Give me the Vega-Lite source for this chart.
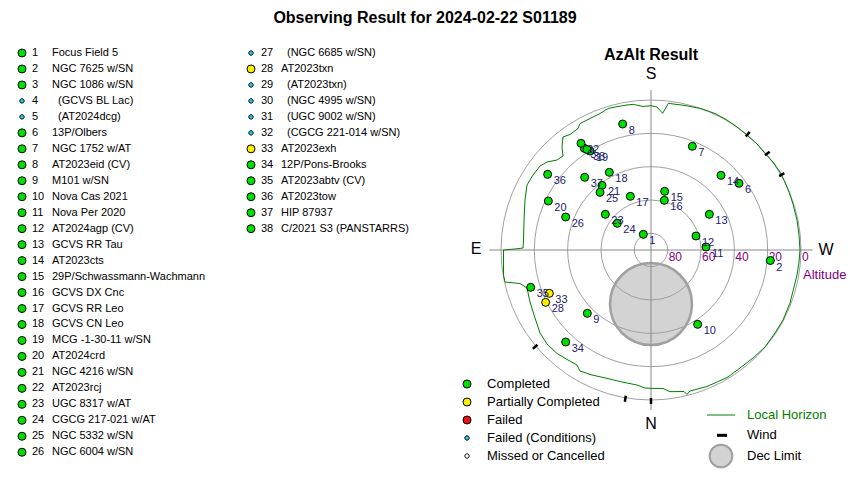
{
  "$schema": "https://vega.github.io/schema/vega-lite/v6.json",
  "width": 850,
  "height": 480,
  "padding": 0,
  "autosize": {"type": "none"},
  "title": {"text": "Observing Result for 2024-02-22 S01189", "fontSize": 16, "fontWeight": "bold", "font": "Liberation Sans", "anchor": "middle", "offset": -26, "color": "black"},
  "config": {"view": {"stroke": null}, "font": "Liberation Sans", "axis": {"disable": true}},
  "datasets": {
    "targets": [
      {"num": 1, "name": "Focus Field 5", "status": "Completed", "col": 0, "row": 1, "skyx": -4.6, "skyy": 9.4},
      {"num": 2, "name": "NGC 7625 w/SN", "status": "Completed", "col": 0, "row": 2, "skyx": 71.6, "skyy": -6.3},
      {"num": 3, "name": "NGC 1086 w/SN", "status": "Completed", "col": 0, "row": 3, "skyx": -40.0, "skyy": 61.0},
      {"num": 4, "name": "(GCVS BL Lac)", "status": "Failed (Conditions)", "col": 0, "row": 4},
      {"num": 5, "name": "(AT2024dcg)", "status": "Failed (Conditions)", "col": 0, "row": 5},
      {"num": 6, "name": "13P/Olbers", "status": "Completed", "col": 0, "row": 6, "skyx": 52.8, "skyy": 40.0},
      {"num": 7, "name": "NGC 1752 w/AT", "status": "Completed", "col": 0, "row": 7, "skyx": 24.8, "skyy": 62.2},
      {"num": 8, "name": "AT2023eid (CV)", "status": "Completed", "col": 0, "row": 8, "skyx": -17.0, "skyy": 75.6},
      {"num": 9, "name": "M101 w/SN", "status": "Completed", "col": 0, "row": 9, "skyx": -38.2, "skyy": -38.0},
      {"num": 10, "name": "Nova Cas 2021", "status": "Completed", "col": 0, "row": 10, "skyx": 28.0, "skyy": -44.6},
      {"num": 11, "name": "Nova Per 2020", "status": "Completed", "col": 0, "row": 11, "skyx": 33.0, "skyy": 1.8},
      {"num": 12, "name": "AT2024agp (CV)", "status": "Completed", "col": 0, "row": 12, "skyx": 27.0, "skyy": 8.4},
      {"num": 13, "name": "GCVS RR Tau", "status": "Completed", "col": 0, "row": 13, "skyx": 35.0, "skyy": 21.4},
      {"num": 14, "name": "AT2023cts", "status": "Completed", "col": 0, "row": 14, "skyx": 42.0, "skyy": 44.8},
      {"num": 15, "name": "29P/Schwassmann-Wachmann", "status": "Completed", "col": 0, "row": 15, "skyx": 8.2, "skyy": 35.2},
      {"num": 16, "name": "GCVS DX Cnc", "status": "Completed", "col": 0, "row": 16, "skyx": 8.0, "skyy": 29.8},
      {"num": 17, "name": "GCVS RR Leo", "status": "Completed", "col": 0, "row": 17, "skyx": -12.4, "skyy": 32.2},
      {"num": 18, "name": "GCVS CN Leo", "status": "Completed", "col": 0, "row": 18, "skyx": -25.0, "skyy": 46.6},
      {"num": 19, "name": "MCG -1-30-11 w/SN", "status": "Completed", "col": 0, "row": 19, "skyx": -36.6, "skyy": 59.4},
      {"num": 20, "name": "AT2024crd", "status": "Completed", "col": 0, "row": 20, "skyx": -61.6, "skyy": 29.4},
      {"num": 21, "name": "NGC 4216 w/SN", "status": "Completed", "col": 0, "row": 21, "skyx": -29.4, "skyy": 38.8},
      {"num": 22, "name": "AT2023rcj", "status": "Completed", "col": 0, "row": 22, "skyx": -42.0, "skyy": 64.0},
      {"num": 23, "name": "UGC 8317 w/AT", "status": "Completed", "col": 0, "row": 23, "skyx": -27.4, "skyy": 21.4},
      {"num": 24, "name": "CGCG 217-021 w/AT", "status": "Completed", "col": 0, "row": 24, "skyx": -20.2, "skyy": 16.0},
      {"num": 25, "name": "NGC 5332 w/SN", "status": "Completed", "col": 0, "row": 25, "skyx": -30.6, "skyy": 34.6},
      {"num": 26, "name": "NGC 6004 w/SN", "status": "Completed", "col": 0, "row": 26, "skyx": -51.2, "skyy": 19.8},
      {"num": 27, "name": "(NGC 6685 w/SN)", "status": "Failed (Conditions)", "col": 1, "row": 1},
      {"num": 28, "name": "AT2023txn", "status": "Partially Completed", "col": 1, "row": 2, "skyx": -63.2, "skyy": -31.4},
      {"num": 29, "name": "(AT2023txn)", "status": "Failed (Conditions)", "col": 1, "row": 3},
      {"num": 30, "name": "(NGC 4995 w/SN)", "status": "Failed (Conditions)", "col": 1, "row": 4},
      {"num": 31, "name": "(UGC 9002 w/SN)", "status": "Failed (Conditions)", "col": 1, "row": 5},
      {"num": 32, "name": "(CGCG 221-014 w/SN)", "status": "Failed (Conditions)", "col": 1, "row": 6},
      {"num": 33, "name": "AT2023exh", "status": "Partially Completed", "col": 1, "row": 7, "skyx": -61.0, "skyy": -26.0},
      {"num": 34, "name": "12P/Pons-Brooks", "status": "Completed", "col": 1, "row": 8, "skyx": -51.2, "skyy": -55.2},
      {"num": 35, "name": "AT2023abtv (CV)", "status": "Completed", "col": 1, "row": 9, "skyx": -72.2, "skyy": -22.4},
      {"num": 36, "name": "AT2023tow", "status": "Completed", "col": 1, "row": 10, "skyx": -62.0, "skyy": 45.4},
      {"num": 37, "name": "HIP 87937", "status": "Completed", "col": 1, "row": 11, "skyx": -39.8, "skyy": 43.6},
      {"num": 38, "name": "C/2021 S3 (PANSTARRS)", "status": "Completed", "col": 1, "row": 12, "skyx": -38.4, "skyy": 60.3}
    ],
    "rings": [
      {"alt": 0, "zd": 90}, {"alt": 20, "zd": 70}, {"alt": 40, "zd": 50}, {"alt": 60, "zd": 30}, {"alt": 80, "zd": 10}
    ],
    "wind": [
      {"wx": 56.9, "wy": 68.1, "wx2": 59.2, "wy2": 70.9},
      {"wx": 68.4, "wy": 56.8, "wx2": 71.2, "wy2": 59.0},
      {"wx": 76.9, "wy": 44.3, "wx2": 80.0, "wy2": 46.1},
      {"wx": -68.1, "wy": -56.9, "wx2": -70.9, "wy2": -59.2},
      {"wx": -15.1, "wy": -87.5, "wx2": -15.7, "wy2": -91.0},
      {"wx": 0, "wy": -88.8, "wx2": 0, "wy2": -92.4}
    ],
    "horizon": [
      {"i": 1, "hx": 0, "hy": 86.6}, {"i": 2, "hx": 3.6, "hy": 85.8}, {"i": 3, "hx": 7.0, "hy": 82.0}, {"i": 4, "hx": 10.4, "hy": 88.0},
      {"i": 5, "hx": 20.4, "hy": 86.7}, {"i": 6, "hx": 29.4, "hy": 85.0}, {"i": 7, "hx": 38.4, "hy": 81.9}, {"i": 8, "hx": 45.6, "hy": 78.0},
      {"i": 9, "hx": 51.6, "hy": 73.8}, {"i": 10, "hx": 57.6, "hy": 69.0}, {"i": 11, "hx": 63.6, "hy": 63.6}, {"i": 12, "hx": 68.4, "hy": 58.0},
      {"i": 13, "hx": 73.2, "hy": 52.8}, {"i": 14, "hx": 77.4, "hy": 46.8}, {"i": 15, "hx": 80.4, "hy": 40.8}, {"i": 16, "hx": 82.8, "hy": 34.8},
      {"i": 17, "hx": 85.2, "hy": 27.6}, {"i": 18, "hx": 87.6, "hy": 18.0}, {"i": 19, "hx": 88.8, "hy": 9.0}, {"i": 20, "hx": 89.4, "hy": 0},
      {"i": 21, "hx": 88.8, "hy": -7.2}, {"i": 22, "hx": 87.6, "hy": -15.0}, {"i": 23, "hx": 85.8, "hy": -22.2}, {"i": 24, "hx": 83.4, "hy": -31.8},
      {"i": 25, "hx": 79.2, "hy": -42.0}, {"i": 26, "hx": 74.4, "hy": -49.8}, {"i": 27, "hx": 68.4, "hy": -58.2}, {"i": 28, "hx": 61.2, "hy": -64.8},
      {"i": 29, "hx": 53.4, "hy": -70.8}, {"i": 30, "hx": 46.2, "hy": -76.2}, {"i": 31, "hx": 33.6, "hy": -81.9}, {"i": 32, "hx": 23.4, "hy": -84.6},
      {"i": 33, "hx": 21.6, "hy": -86.7}, {"i": 34, "hx": 19.8, "hy": -84.9}, {"i": 35, "hx": 11.4, "hy": -85.0}, {"i": 36, "hx": 7.2, "hy": -83.1},
      {"i": 37, "hx": -0.6, "hy": -83.0}, {"i": 38, "hx": -3.6, "hy": -82.8}, {"i": 39, "hx": -8.4, "hy": -81.0}, {"i": 40, "hx": -17.4, "hy": -79.2},
      {"i": 41, "hx": -26.4, "hy": -77.0}, {"i": 42, "hx": -35.4, "hy": -75.0}, {"i": 43, "hx": -42.6, "hy": -72.6}, {"i": 44, "hx": -44.4, "hy": -69.0},
      {"i": 45, "hx": -49.8, "hy": -66.0}, {"i": 46, "hx": -56.4, "hy": -62.1}, {"i": 47, "hx": -62.4, "hy": -56.4}, {"i": 48, "hx": -66.6, "hy": -49.8},
      {"i": 49, "hx": -69.6, "hy": -40.8}, {"i": 50, "hx": -72.6, "hy": -31.2}, {"i": 51, "hx": -74.4, "hy": -22.8}, {"i": 52, "hx": -78.6, "hy": -20.1},
      {"i": 53, "hx": -87.6, "hy": -19.2}, {"i": 54, "hx": -88.5, "hy": -15.0}, {"i": 55, "hx": -88.5, "hy": 0}, {"i": 56, "hx": -81.6, "hy": 0.6},
      {"i": 57, "hx": -76.8, "hy": 1.2}, {"i": 58, "hx": -76.5, "hy": 6.0}, {"i": 59, "hx": -76.2, "hy": 18.0}, {"i": 60, "hx": -75.6, "hy": 30.0},
      {"i": 61, "hx": -74.4, "hy": 39.0}, {"i": 62, "hx": -70.8, "hy": 45.0}, {"i": 63, "hx": -66.6, "hy": 50.4}, {"i": 64, "hx": -62.4, "hy": 52.8},
      {"i": 65, "hx": -56.4, "hy": 54.0}, {"i": 66, "hx": -52.8, "hy": 56.4}, {"i": 67, "hx": -53.4, "hy": 61.8}, {"i": 68, "hx": -52.8, "hy": 67.8},
      {"i": 69, "hx": -48.6, "hy": 69.3}, {"i": 70, "hx": -43.8, "hy": 72.9}, {"i": 71, "hx": -42.6, "hy": 75.9}, {"i": 72, "hx": -36.6, "hy": 78.9},
      {"i": 73, "hx": -30.6, "hy": 81.9}, {"i": 74, "hx": -25.8, "hy": 84.9}, {"i": 75, "hx": -20.4, "hy": 86.0}, {"i": 76, "hx": -14.4, "hy": 87.0},
      {"i": 77, "hx": -10.8, "hy": 87.4}, {"i": 78, "hx": -4.8, "hy": 86.1}, {"i": 79, "hx": 0, "hy": 86.6}
    ]
  },
  "resolve": {"scale": {"x": "independent", "y": "independent"}},
  "layer": [
    {
      "data": {"name": "targets"},
      "encoding": {
        "x": {"field": "col", "type": "quantitative", "scale": {"domain": [-0.0961, 3.6157], "nice": false, "zero": false}},
        "y": {"field": "row", "type": "quantitative", "scale": {"domain": [-2.3187, 27.7377], "nice": false, "zero": false, "reverse": true}}
      },
      "layer": [
        {
          "mark": {"type": "point", "filled": true, "stroke": "black", "strokeWidth": 1, "size": 64, "opacity": 1},
          "encoding": {
            "color": {"field": "status", "type": "nominal",
              "scale": {"domain": ["Completed", "Partially Completed", "Failed", "Failed (Conditions)", "Missed or Cancelled"], "range": ["#00e000", "#ffee00", "#ee1111", "#22ccee", "#ffffff"]},
              "legend": {"title": null, "orient": "none", "legendX": 460.5, "legendY": 377.5, "labelFontSize": 13, "labelFont": "Liberation Sans", "labelColor": "black", "rowPadding": 4, "labelOffset": 13.5, "symbolStrokeColor": "black", "symbolStrokeWidth": 1, "padding": 0, "symbolSize": 64}},
            "shape": {"field": "status", "type": "nominal",
              "scale": {"domain": ["Completed", "Partially Completed", "Failed", "Failed (Conditions)", "Missed or Cancelled"], "range": ["circle", "circle", "circle", "M-0.55,0A0.55,0.55,0,1,1,0.55,0A0.55,0.55,0,1,1,-0.55,0Z", "M-0.55,0A0.55,0.55,0,1,1,0.55,0A0.55,0.55,0,1,1,-0.55,0Z"]},
              "legend": {"title": null, "orient": "none", "legendX": 460.5, "legendY": 377.5, "labelFontSize": 13, "labelFont": "Liberation Sans", "labelColor": "black", "rowPadding": 4, "labelOffset": 13.5, "symbolStrokeColor": "black", "symbolStrokeWidth": 1, "padding": 0, "symbolSize": 64}}
          }
        },
        {
          "mark": {"type": "text", "align": "left", "baseline": "middle", "dx": 10, "fontSize": 11, "color": "black"},
          "encoding": {"text": {"field": "num", "type": "nominal"}}
        },
        {
          "mark": {"type": "text", "align": "left", "baseline": "middle", "dx": {"expr": "datum.status === 'Failed (Conditions)' ? 36 : 30"}, "fontSize": 11, "color": "black"},
          "encoding": {"text": {"field": "name", "type": "nominal"}}
        }
      ]
    },
    {
      "layer": [
        {
          "data": {"values": [{}]},
          "mark": {"type": "arc", "theta": 0, "theta2": 6.2832, "fill": "#d3d3d3", "stroke": "#a0a0a0", "strokeWidth": 2.5},
          "encoding": {
            "x": {"datum": 0, "type": "quantitative", "scale": {"domain": [-390.6, 119.4], "nice": false, "zero": false}},
            "y": {"datum": -32.4, "type": "quantitative", "scale": {"domain": [-138, 150], "nice": false, "zero": false}},
            "radius": {"datum": 24.6, "type": "quantitative", "stack": null, "scale": {"type": "linear", "domain": [0, 90], "range": [0, 150], "zero": true, "nice": false}}
          }
        },
        {
          "data": {"name": "rings"},
          "mark": {"type": "arc", "theta": 0, "theta2": 6.2832, "filled": false, "stroke": "#a0a0a0", "strokeWidth": 1},
          "encoding": {
            "x": {"datum": 0, "type": "quantitative", "scale": {"domain": [-390.6, 119.4], "nice": false, "zero": false}},
            "y": {"datum": 0, "type": "quantitative", "scale": {"domain": [-138, 150], "nice": false, "zero": false}},
            "radius": {"field": "zd", "type": "quantitative", "stack": null, "scale": {"type": "linear", "domain": [0, 90], "range": [0, 150], "zero": true, "nice": false}}
          }
        },
        {
          "data": {"values": [{}]},
          "mark": {"type": "rule", "color": "#888888", "strokeWidth": 1},
          "encoding": {
            "x": {"datum": 0, "type": "quantitative", "scale": {"domain": [-390.6, 119.4], "nice": false, "zero": false}},
            "y": {"datum": -96, "type": "quantitative", "scale": {"domain": [-138, 150], "nice": false, "zero": false}},
            "y2": {"datum": 96}
          }
        },
        {
          "data": {"values": [{}]},
          "mark": {"type": "rule", "color": "#888888", "strokeWidth": 1},
          "encoding": {
            "x": {"datum": -97, "type": "quantitative", "scale": {"domain": [-390.6, 119.4], "nice": false, "zero": false}},
            "x2": {"datum": 97},
            "y": {"datum": 0, "type": "quantitative", "scale": {"domain": [-138, 150], "nice": false, "zero": false}}
          }
        },
        {
          "data": {"name": "rings"},
          "mark": {"type": "text", "align": "left", "baseline": "top", "dx": 1, "dy": 1.5, "fontSize": 12, "color": "#800080"},
          "encoding": {
            "x": {"field": "zd", "type": "quantitative", "scale": {"domain": [-390.6, 119.4], "nice": false, "zero": false}},
            "y": {"datum": 0, "type": "quantitative", "scale": {"domain": [-138, 150], "nice": false, "zero": false}},
            "text": {"field": "alt", "type": "quantitative"}
          }
        },
        {
          "data": {"name": "horizon"},
          "mark": {"type": "line", "color": "#008000", "strokeWidth": 1},
          "encoding": {
            "x": {"field": "hx", "type": "quantitative", "scale": {"domain": [-390.6, 119.4], "nice": false, "zero": false}},
            "y": {"field": "hy", "type": "quantitative", "scale": {"domain": [-138, 150], "nice": false, "zero": false}},
            "order": {"field": "i", "type": "quantitative"}
          }
        },
        {
          "data": {"name": "wind"},
          "mark": {"type": "rule", "color": "black", "strokeWidth": 2.5},
          "encoding": {
            "x": {"field": "wx", "type": "quantitative", "scale": {"domain": [-390.6, 119.4], "nice": false, "zero": false}},
            "y": {"field": "wy", "type": "quantitative", "scale": {"domain": [-138, 150], "nice": false, "zero": false}},
            "x2": {"field": "wx2"},
            "y2": {"field": "wy2"}
          }
        },
        {
          "data": {"name": "targets"},
          "transform": [{"filter": "isValid(datum.skyx)"}],
          "mark": {"type": "point", "filled": true, "stroke": "black", "strokeWidth": 1, "size": 64, "opacity": 1},
          "encoding": {
            "x": {"field": "skyx", "type": "quantitative", "scale": {"domain": [-390.6, 119.4], "nice": false, "zero": false}},
            "y": {"field": "skyy", "type": "quantitative", "scale": {"domain": [-138, 150], "nice": false, "zero": false}},
            "color": {"field": "status", "type": "nominal"},
            "shape": {"field": "status", "type": "nominal"}
          }
        },
        {
          "data": {"name": "targets"},
          "transform": [{"filter": "isValid(datum.skyx)"}],
          "mark": {"type": "text", "align": "left", "baseline": "middle", "dx": 6, "dy": 7, "fontSize": 11, "color": "#202070"},
          "encoding": {
            "x": {"field": "skyx", "type": "quantitative", "scale": {"domain": [-390.6, 119.4], "nice": false, "zero": false}},
            "y": {"field": "skyy", "type": "quantitative", "scale": {"domain": [-138, 150], "nice": false, "zero": false}},
            "text": {"field": "num", "type": "nominal"}
          }
        },
        {
          "data": {"values": [{}]},
          "mark": {"type": "text", "text": "S", "fontSize": 16, "align": "center", "baseline": "middle", "color": "black"},
          "encoding": {
            "x": {"datum": 0, "type": "quantitative", "scale": {"domain": [-390.6, 119.4], "nice": false, "zero": false}},
            "y": {"datum": 105.6, "type": "quantitative", "scale": {"domain": [-138, 150], "nice": false, "zero": false}}
          }
        },
        {
          "data": {"values": [{}]},
          "mark": {"type": "text", "text": "N", "fontSize": 16, "align": "center", "baseline": "middle", "color": "black"},
          "encoding": {
            "x": {"datum": 0, "type": "quantitative", "scale": {"domain": [-390.6, 119.4], "nice": false, "zero": false}},
            "y": {"datum": -104.4, "type": "quantitative", "scale": {"domain": [-138, 150], "nice": false, "zero": false}}
          }
        },
        {
          "data": {"values": [{}]},
          "mark": {"type": "text", "text": "E", "fontSize": 16, "align": "center", "baseline": "middle", "color": "black"},
          "encoding": {
            "x": {"datum": -105, "type": "quantitative", "scale": {"domain": [-390.6, 119.4], "nice": false, "zero": false}},
            "y": {"datum": 0.6, "type": "quantitative", "scale": {"domain": [-138, 150], "nice": false, "zero": false}}
          }
        },
        {
          "data": {"values": [{}]},
          "mark": {"type": "text", "text": "W", "fontSize": 16, "align": "center", "baseline": "middle", "color": "black"},
          "encoding": {
            "x": {"datum": 105, "type": "quantitative", "scale": {"domain": [-390.6, 119.4], "nice": false, "zero": false}},
            "y": {"datum": 0, "type": "quantitative", "scale": {"domain": [-138, 150], "nice": false, "zero": false}}
          }
        },
        {
          "data": {"values": [{}]},
          "mark": {"type": "text", "text": "AzAlt Result", "fontSize": 16, "fontWeight": "bold", "align": "center", "baseline": "middle", "color": "black"},
          "encoding": {
            "x": {"datum": 0, "type": "quantitative", "scale": {"domain": [-390.6, 119.4], "nice": false, "zero": false}},
            "y": {"datum": 117, "type": "quantitative", "scale": {"domain": [-138, 150], "nice": false, "zero": false}}
          }
        },
        {
          "data": {"values": [{}]},
          "mark": {"type": "text", "text": "Altitude", "fontSize": 13, "align": "left", "baseline": "middle", "color": "#800080"},
          "encoding": {
            "x": {"datum": 91.2, "type": "quantitative", "scale": {"domain": [-390.6, 119.4], "nice": false, "zero": false}},
            "y": {"datum": -15, "type": "quantitative", "scale": {"domain": [-138, 150], "nice": false, "zero": false}}
          }
        },
        {
          "data": {"values": [{}]},
          "mark": {"type": "rule", "color": "#008000", "strokeWidth": 1},
          "encoding": {
            "x": {"datum": 33.6, "type": "quantitative", "scale": {"domain": [-390.6, 119.4], "nice": false, "zero": false}},
            "x2": {"datum": 50.4},
            "y": {"datum": -99, "type": "quantitative", "scale": {"domain": [-138, 150], "nice": false, "zero": false}}
          }
        },
        {
          "data": {"values": [{}]},
          "mark": {"type": "text", "text": "Local Horizon", "fontSize": 13, "align": "left", "baseline": "middle", "color": "#008000"},
          "encoding": {
            "x": {"datum": 57.6, "type": "quantitative", "scale": {"domain": [-390.6, 119.4], "nice": false, "zero": false}},
            "y": {"datum": -99, "type": "quantitative", "scale": {"domain": [-138, 150], "nice": false, "zero": false}}
          }
        },
        {
          "data": {"values": [{}]},
          "mark": {"type": "rule", "color": "black", "strokeWidth": 3},
          "encoding": {
            "x": {"datum": 39.6, "type": "quantitative", "scale": {"domain": [-390.6, 119.4], "nice": false, "zero": false}},
            "x2": {"datum": 45.6},
            "y": {"datum": -111.2, "type": "quantitative", "scale": {"domain": [-138, 150], "nice": false, "zero": false}}
          }
        },
        {
          "data": {"values": [{}]},
          "mark": {"type": "text", "text": "Wind", "fontSize": 13, "align": "left", "baseline": "middle", "color": "black"},
          "encoding": {
            "x": {"datum": 57.6, "type": "quantitative", "scale": {"domain": [-390.6, 119.4], "nice": false, "zero": false}},
            "y": {"datum": -111.2, "type": "quantitative", "scale": {"domain": [-138, 150], "nice": false, "zero": false}}
          }
        },
        {
          "data": {"values": [{}]},
          "mark": {"type": "arc", "theta": 0, "theta2": 6.2832, "fill": "#d3d3d3", "stroke": "#a0a0a0", "strokeWidth": 2},
          "encoding": {
            "x": {"datum": 42, "type": "quantitative", "scale": {"domain": [-390.6, 119.4], "nice": false, "zero": false}},
            "y": {"datum": -123.6, "type": "quantitative", "scale": {"domain": [-138, 150], "nice": false, "zero": false}},
            "radius": {"datum": 6.8, "type": "quantitative", "stack": null, "scale": {"type": "linear", "domain": [0, 90], "range": [0, 150], "zero": true, "nice": false}}
          }
        },
        {
          "data": {"values": [{}]},
          "mark": {"type": "text", "text": "Dec Limit", "fontSize": 13, "align": "left", "baseline": "middle", "color": "black"},
          "encoding": {
            "x": {"datum": 57.6, "type": "quantitative", "scale": {"domain": [-390.6, 119.4], "nice": false, "zero": false}},
            "y": {"datum": -123.6, "type": "quantitative", "scale": {"domain": [-138, 150], "nice": false, "zero": false}}
          }
        }
      ]
    }
  ]
}
